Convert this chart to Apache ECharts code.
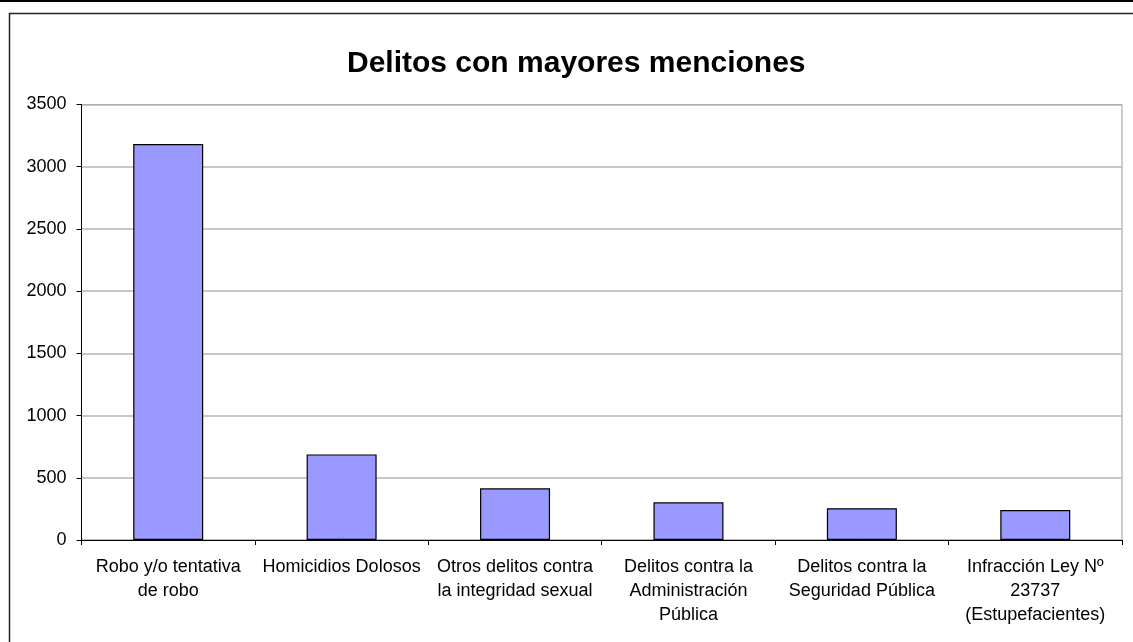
<!DOCTYPE html>
<html>
<head>
<meta charset="utf-8">
<script src="https://cdn.jsdelivr.net/npm/echarts@6/dist/echarts.min.js"></script>
<style>
html,body{margin:0;padding:0;background:#fff;}
#chart{width:1133px;height:642px;}
</style>
</head>
<body>
<div id="chart"></div>
<script>
const titleText = "Delitos con mayores menciones";
const categoryLines = [
  ["Robo y/o tentativa", "de robo"],
  ["Homicidios Dolosos"],
  ["Otros delitos contra", "la integridad sexual"],
  ["Delitos contra la", "Administración", "Pública"],
  ["Delitos contra la", "Seguridad Pública"],
  ["Infracción Ley Nº", "23737", "(Estupefacientes)"]
];
const categories = categoryLines.map(l => l.join(" "));
const values = [3182, 688, 415, 303, 255, 241];
const yMin = 0, yMax = 3500, yStep = 500;

const chart = echarts.init(document.getElementById('chart'), null, {renderer: 'canvas'});
const font = "'Liberation Sans', Arial, sans-serif";
chart.setOption({
  animation: false,
  backgroundColor: '#ffffff',
  textStyle: {fontFamily: font},
  title: {
    text: titleText,
    left: 347,
    top: 49,
    padding: 0,
    textStyle: {fontFamily: font, fontSize: 30, fontWeight: 'bold', color: '#000'}
  },
  graphic: [
    {type: 'line', shape: {x1: 0, y1: 1, x2: 1133, y2: 1}, style: {stroke: '#000', lineWidth: 2}, silent: true},
    {type: 'rect', shape: {x: 9.5, y: 13.5, width: 1200, height: 700}, style: {fill: null, stroke: '#222', lineWidth: 1.5}, silent: true}
  ],
  grid: {
    left: 81.5, right: 11, top: 104.5, bottom: 102,
    show: true, borderColor: '#999', borderWidth: 1, backgroundColor: 'transparent'
  },
  xAxis: {
    type: 'category',
    data: categories,
    axisLine: {lineStyle: {color: '#000', width: 1}},
    axisTick: {show: true, length: 5, lineStyle: {color: '#000'}},
    axisLabel: {
      interval: 0,
      margin: 15,
      color: '#000',
      fontFamily: font,
      fontSize: 18,
      lineHeight: 24,
      formatter: (v, i) => categoryLines[i].join("\n")
    }
  },
  yAxis: {
    type: 'value',
    min: yMin, max: yMax, interval: yStep,
    axisLine: {show: true, lineStyle: {color: '#000', width: 1}},
    axisTick: {show: true, length: 5, lineStyle: {color: '#000'}},
    splitLine: {show: true, lineStyle: {color: '#b4b4b4', width: 1.5}},
    axisLabel: {margin: 15, color: '#000', fontFamily: font, fontSize: 18, formatter: v => String(v)}
  },
  series: [{
    type: 'bar',
    data: values,
    barWidth: 70,
    itemStyle: {color: '#9999ff', borderColor: '#000', borderWidth: 1.2}
  }]
});
</script>
</body>
</html>
